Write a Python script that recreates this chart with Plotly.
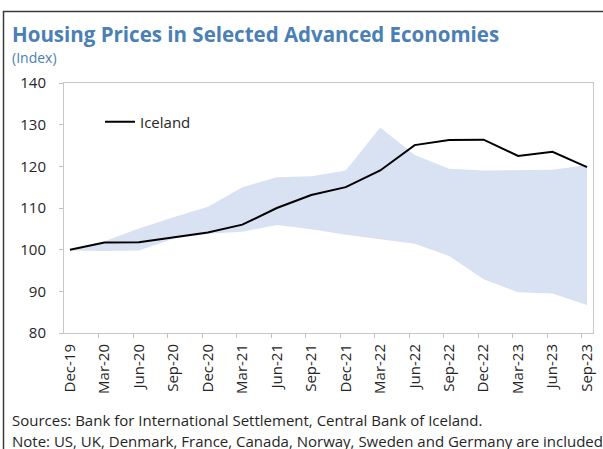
import plotly.graph_objects as go

categories = ["Dec-19", "Mar-20", "Jun-20", "Sep-20", "Dec-20", "Mar-21", "Jun-21", "Sep-21",
              "Dec-21", "Mar-22", "Jun-22", "Sep-22", "Dec-22", "Mar-23", "Jun-23", "Sep-23"]
iceland = [100.0, 101.7, 101.8, 102.9, 104.1, 106.0, 110.0, 113.1,
           115.0, 119.0, 125.1, 126.3, 126.4, 122.5, 123.5, 119.8]
range_upper = [100.0, 102.0, 105.1, 107.8, 110.3, 115.0, 117.4, 117.6,
               119.0, 129.3, 122.7, 119.4, 119.0, 119.1, 119.2, 120.3]
range_lower = [99.8, 99.7, 99.8, 102.6, 103.8, 104.3, 105.9, 104.9,
               103.6, 102.5, 101.4, 98.5, 92.9, 89.8, 89.5, 86.7]
y_ticks = [80, 90, 100, 110, 120, 130, 140]

W, H = 603, 449
L, R, T, B = 64, 10, 83, 116
PW, PH = W - L - R, H - T - B


def px(x):
    return (x - L) / PW


def py(y):
    return (H - B - y) / PH


xs = list(range(len(categories)))
fig = go.Figure()
fig.add_trace(go.Scatter(x=xs, y=range_lower, mode="lines", line=dict(width=0, color="#d9e2f3"),
                         showlegend=False, hoverinfo="skip"))
fig.add_trace(go.Scatter(x=xs, y=range_upper, mode="lines", line=dict(width=0, color="#d9e2f3"),
                         fill="tonexty", fillcolor="#d9e2f3", showlegend=False, name="Range"))
fig.add_trace(go.Scatter(x=xs, y=iceland, mode="lines", line=dict(width=2, color="#000000"),
                         name="Iceland"))

font_family = "Open Sans, Noto Sans, sans-serif"
fig.update_layout(
    width=W, height=H,
    margin=dict(l=L, r=R, t=T, b=B, autoexpand=False),
    paper_bgcolor="white", plot_bgcolor="white",
    font=dict(family=font_family, color="#262626", size=14),
    showlegend=True,
    legend=dict(x=px(100), y=py(122), xanchor="left", yanchor="middle",
                bgcolor="rgba(0,0,0,0)", itemwidth=30,
                font=dict(size=15, color="#262626", family=font_family)),
    xaxis=dict(range=[-0.174, 15.174], tickmode="array", tickvals=xs, ticktext=categories,
               tickangle=-90, ticks="", showgrid=False, zeroline=False,
               showline=True, linecolor="#c8c8c8", linewidth=1, mirror=True,
               tickfont=dict(size=15, color="#262626"), ticklabelstandoff=4,
               minor=dict(tickmode="array", tickvals=[i - 0.16 for i in xs[1:]],
                          ticks="outside", ticklen=4, tickcolor="#bfbfbf", showgrid=False)),
    yaxis=dict(range=[80, 140], tickmode="array", tickvals=y_ticks,
               ticks="outside", ticklen=4, tickcolor="#bfbfbf", showgrid=False, zeroline=False,
               showline=True, linecolor="#c8c8c8", linewidth=1, mirror=True,
               tickfont=dict(size=15, color="#262626"), ticklabelstandoff=10),
)

ann_common = dict(xref="paper", yref="paper", showarrow=False, xanchor="left", yanchor="middle")
fig.add_annotation(text="<b>Housing Prices in Selected Advanced Economies</b>", x=px(10), y=py(34),
                   font=dict(size=20.5, color="#4a80b5", family=font_family), **ann_common)
fig.add_annotation(text="(Index)", x=px(10), y=py(58),
                   font=dict(size=14, color="#4a80b5", family=font_family), **ann_common)
fig.add_annotation(text="Sources: Bank for International Settlement, Central Bank of Iceland.",
                   x=px(10), y=py(420), font=dict(size=15, color="#262626", family=font_family),
                   **ann_common)
fig.add_annotation(text="Note: US, UK, Denmark, France, Canada, Norway, Sweden and Germany are included.",
                   x=px(10), y=py(441), font=dict(size=15, color="#262626", family=font_family),
                   **ann_common)

fig.add_shape(type="rect", xref="paper", yref="paper", x0=px(3.5), x1=px(640), y0=py(470), y1=py(11.5),
              line=dict(color="#3a3a3a", width=1.5), fillcolor="rgba(0,0,0,0)", layer="above")

fig.write_html("out.html", config={"displayModeBar": False},
               post_script="document.body.style.margin='0';document.body.style.overflow='hidden';")
